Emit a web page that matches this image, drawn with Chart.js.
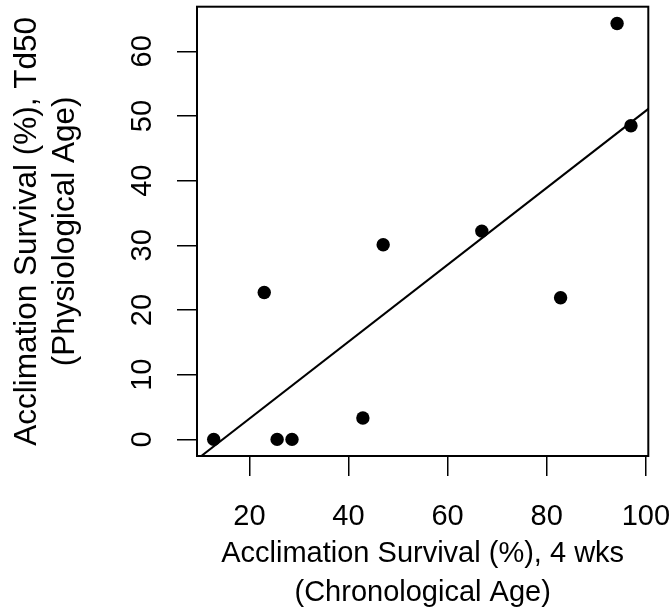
<!DOCTYPE html>
<html>
<head>
<meta charset="utf-8">
<script src="https://cdn.jsdelivr.net/npm/chart.js@4"></script>
<style>
  html, body { margin: 0; padding: 0; background: #ffffff; }
  canvas { display: block; }
</style>
</head>
<body>
<canvas id="c" width="672" height="609"></canvas>
<script>
// ---- data ----
const chronoSurvival = [12.8, 23.0, 25.6, 28.6, 42.9, 47.0, 66.9, 82.8, 94.2, 97.0];   // x: Acclimation Survival (%), 4 wks
const physioTd50     = [0.0, 22.7, 0.0, 0.0, 3.3, 30.1, 32.2, 21.9, 64.3, 48.5];       // y: Acclimation Survival (%), Td50
const xTickValues = [20, 40, 60, 80, 100];
const yTickValues = [0, 10, 20, 30, 40, 50, 60];
const fitIntercept = -8.7;   // fitted line
const fitSlope = 0.595;

const xTitle = ['Acclimation Survival (%), 4 wks', '(Chronological Age)'];
const yTitle = ['Acclimation Survival (%), Td50', '(Physiological Age)'];

// axis ranges (R-style 4% extension)
const xMin = 9.43, xMax = 100.5;
const yMin = -2.57, yMax = 66.9;

const points = chronoSurvival.map((x, i) => ({ x: x, y: physioTd50[i] }));
const fitLine = [xMin - 5, xMax + 5].map(x => ({ x: x, y: fitIntercept + fitSlope * x }));

const FONT = 'Liberation Sans, Arial, Helvetica, sans-serif';

const boxPlugin = {
  id: 'box',
  afterDraw(chart) {
    const a = chart.chartArea, ctx = chart.ctx;
    ctx.save();
    ctx.strokeStyle = '#000';
    ctx.lineWidth = 2;
    ctx.strokeRect(a.left, a.top, a.right - a.left, a.bottom - a.top);
    ctx.restore();
  }
};

function noOverhang(s) {
  s.paddingTop = 0; s.paddingBottom = 0; s.paddingLeft = 0; s.paddingRight = 0;
}

new Chart(document.getElementById('c'), {
  type: 'scatter',
  data: {
    datasets: [
      {
        type: 'scatter',
        data: points,
        pointRadius: 6.7,
        pointHoverRadius: 6.7,
        pointBackgroundColor: '#000',
        pointBorderWidth: 0,
        order: 2
      },
      {
        type: 'line',
        data: fitLine,
        borderColor: '#000',
        borderWidth: 2,
        pointRadius: 0,
        fill: false,
        order: 1
      }
    ]
  },
  options: {
    responsive: false,
    animation: false,
    events: [],
    layout: { padding: { left: 0, top: 5, right: 23.7, bottom: 0 } },
    plugins: { legend: { display: false }, tooltip: { enabled: false } },
    scales: {
      x: {
        type: 'linear',
        min: xMin, max: xMax,
        afterFit(s) { s.height = 153; noOverhang(s); },
        afterBuildTicks(s) { s.ticks = xTickValues.map(v => ({ value: v })); },
        border: { display: false },
        grid: { drawOnChartArea: false, drawTicks: true, tickLength: 20, tickColor: '#000', tickWidth: 1.5, lineWidth: 1.5 },
        ticks: { color: '#000', font: { family: FONT, size: 29 }, padding: 24, maxRotation: 0, autoSkip: false, includeBounds: false },
        title: { display: true, text: xTitle, color: '#000', font: { family: FONT, size: 29, lineHeight: 1.345 }, padding: { top: 0, bottom: -4 } }
      },
      y: {
        type: 'linear',
        min: yMin, max: yMax,
        afterFit(s) { s.width = 197; noOverhang(s); },
        afterBuildTicks(s) { s.ticks = yTickValues.map(v => ({ value: v })); },
        border: { display: false },
        grid: { drawOnChartArea: false, drawTicks: true, tickLength: 20, tickColor: '#000', tickWidth: 1.5, lineWidth: 1.5 },
        ticks: { color: '#000', font: { family: FONT, size: 29 }, padding: 18, minRotation: 90, maxRotation: 90, crossAlign: 'center', autoSkip: false, includeBounds: false },
        title: { display: true, text: yTitle, color: '#000', font: { family: FONT, size: 31.5, lineHeight: 1.23 }, padding: { top: 7.5, bottom: 0 } }
      }
    }
  },
  plugins: [boxPlugin]
});
</script>
</body>
</html>
